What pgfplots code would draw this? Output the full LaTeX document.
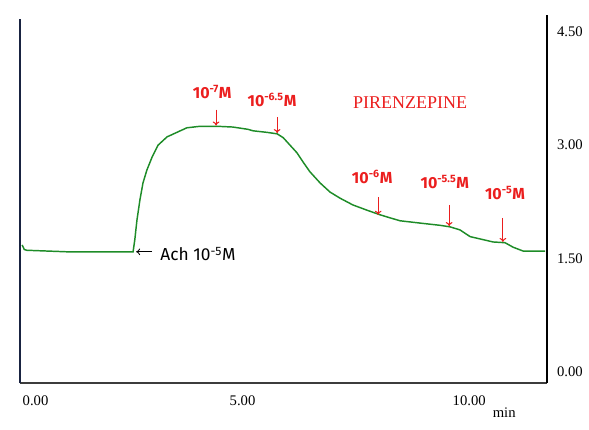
\documentclass[border=0pt]{standalone}
\usepackage{pgfplots}
\pgfplotsset{compat=1.18}
\usetikzlibrary{arrows.meta}
\usepackage{fontspec}
\setmainfont{Liberation Serif}
\newfontfamily\annfont{Fira Sans}
\definecolor{trace}{RGB}{30,140,40}
\definecolor{ann}{RGB}{235,30,30}
\definecolor{navy}{RGB}{25,35,65}
\definecolor{botax}{RGB}{60,60,60}
\begin{document}
\begin{tikzpicture}
\useasboundingbox (-15pt,-34.5pt) rectangle (426.75pt,287.25pt);
\begin{axis}[
 scale only axis, width=395.25pt, height=276pt,
 xmin=0, xmax=12.256, ymin=-0.1455, ymax=4.722,
 axis x line*=bottom, axis y line*=right,
 x axis line style={botax, line width=1.5pt, -},
 y axis line style={black, line width=1.5pt, -},
 major tick length=0pt,
 xtick={0,5,10}, xticklabels={0.00,\kern-6pt5.00,\raisebox{2.5pt}{10.00}},
 ytick={0,1.5,3,4.5}, yticklabels={0.00,1.50,3.00,4.50},
 tick label style={font=\fontsize{11}{12}\selectfont},
 xticklabel style={anchor=north west, yshift=-6pt, xshift=-1.5pt},
 yticklabel style={anchor=west, xshift=4pt},
 /pgf/number format/assume math mode=true,
 clip=false,
]
\addplot[trace, line width=1.1pt] coordinates {
(0.05,1.68) (0.10,1.62) (0.16,1.61) (1.09,1.59) (2.63,1.59) (2.67,1.75) (2.72,2.01)
(2.79,2.28) (2.86,2.50) (2.95,2.67) (3.07,2.84) (3.21,3.00) (3.42,3.11) (3.65,3.17)
(3.88,3.23) (4.19,3.25) (4.58,3.25) (4.95,3.24) (5.30,3.21) (5.42,3.19) (5.74,3.17)
(5.98,3.15) (6.12,3.10) (6.28,3.00) (6.44,2.90) (6.58,2.78) (6.74,2.65) (6.98,2.50)
(7.21,2.38) (7.44,2.30) (7.74,2.21) (8.07,2.14) (8.37,2.08) (8.60,2.04) (8.84,2.00)
(9.30,1.97) (9.77,1.94) (10.00,1.92) (10.23,1.88) (10.47,1.79) (10.70,1.76) (11.00,1.72)
(11.28,1.71) (11.47,1.65) (11.70,1.60) (12.21,1.60)
};
\draw[navy, line width=1.5pt] (rel axis cs:0,0) -- (rel axis cs:0,0.99);
% annotations
\begin{scope}[ann, line width=0.8pt, -{To[length=3pt,width=5pt]}]
\draw (axis cs:4.56,3.47) -- (axis cs:4.56,3.26);
\draw (axis cs:5.98,3.37) -- (axis cs:5.98,3.16);
\draw (axis cs:8.33,2.31) -- (axis cs:8.33,2.08);
\draw (axis cs:9.98,2.21) -- (axis cs:9.98,1.93);
\draw (axis cs:11.23,2.04) -- (axis cs:11.23,1.72);
\end{scope}
\begin{scope}[every node/.style={ann, font=\annfont\bfseries\fontsize{12}{13}\selectfont, inner sep=0pt}]
\node at (axis cs:4.47,3.70) {10\textsuperscript{-7}M};
\node at (axis cs:5.86,3.60) {10\textsuperscript{-6.5}M};
\node at (axis cs:8.19,2.58) {10\textsuperscript{-6}M};
\node at (axis cs:9.88,2.51) {10\textsuperscript{-5.5}M};
\node at (axis cs:11.28,2.37) {10\textsuperscript{-5}M};
\end{scope}
\node[ann, font=\fontsize{13.5}{15}\selectfont, inner sep=0pt] at (axis cs:9.07,3.56) {PIRENZEPINE};
\draw[black, line width=0.6pt, -{To[length=3pt,width=5pt]}] (axis cs:3.07,1.59) -- (axis cs:2.70,1.59);
\node[anchor=west, inner sep=0pt, font=\annfont\fontsize{13}{14}\selectfont] at (axis cs:3.26,1.56) {Ach 10\textsuperscript{-5}M};
\node[inner sep=0pt, font=\fontsize{11}{12}\selectfont] at (axis cs:11.26,-0.54) {min};
\end{axis}
\end{tikzpicture}
\end{document}
